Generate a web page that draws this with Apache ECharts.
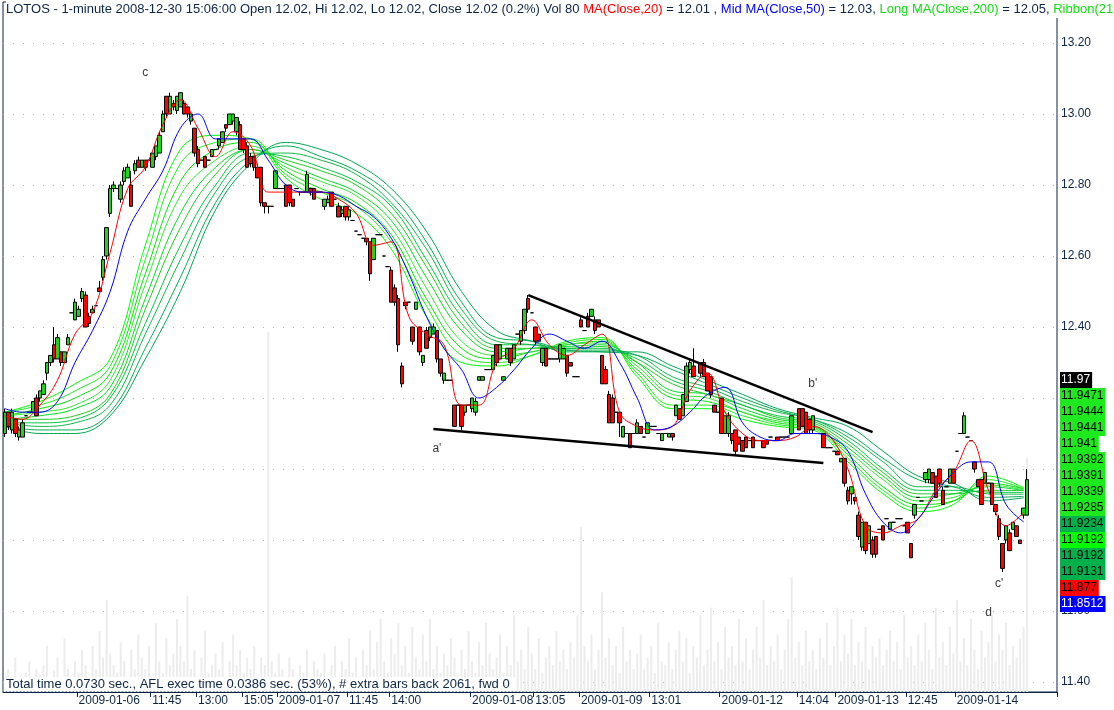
<!DOCTYPE html>
<html><head><meta charset="utf-8">
<script src="https://cdn.jsdelivr.net/npm/echarts@6/dist/echarts.min.js"></script>
<style>html,body{margin:0;padding:0;background:#fff}#c{width:1114px;height:710px}</style>
</head><body><div id="c"></div>
<script>
// ---------- DATA ----------
const N_SLOTS = 300; // bar slots on the x axis (last ones empty)
const tickIdx  = [21, 42, 55, 68, 78, 98, 110, 133, 151, 164, 184, 204, 226, 237, 257, 271];
const tickText = ['2009-01-06','11:45','13:00','15:05','2009-01-07','11:45','14:00','2009-01-08','13:05','2009-01-09','13:01','2009-01-12','14:04','2009-01-13','12:45','2009-01-14'];

// [open, close, low, high]
const bars = [
[12.10,12.16,12.09,12.17],[12.16,12.12,12.11,12.16],[12.11,12.16,12.10,12.17],[12.14,12.10,12.09,12.14],[12.09,12.11,12.08,12.12],
[12.09,12.13,12.09,12.14],[12.15,12.15,12.15,12.15],[12.16,12.16,12.16,12.16],[12.16,12.19,12.16,12.19],[12.20,12.15,12.15,12.21],
[12.20,12.22,12.19,12.22],[12.21,12.24,12.21,12.25],[12.27,12.30,12.25,12.30],[12.30,12.32,12.29,12.32],[12.35,12.31,12.30,12.40],
[12.31,12.37,12.31,12.38],[12.33,12.30,12.29,12.33],[12.30,12.33,12.30,12.33],[12.35,12.37,12.35,12.38],[12.44,12.44,12.44,12.44],
[12.42,12.47,12.42,12.48],[12.43,12.45,12.43,12.46],[12.48,12.50,12.47,12.51],[12.49,12.40,12.40,12.50],[12.43,12.41,12.40,12.44],
[12.44,12.45,12.44,12.46],[12.46,12.46,12.46,12.46],[12.51,12.50,12.50,12.53],[12.54,12.59,12.53,12.60],[12.60,12.68,12.59,12.68],
[12.72,12.79,12.71,12.80],[12.79,12.80,12.78,12.81],[12.79,12.79,12.79,12.79],[12.76,12.80,12.75,12.81],[12.81,12.84,12.80,12.85],
[12.82,12.85,12.82,12.86],[12.80,12.74,12.74,12.84],[12.84,12.86,12.83,12.87],[12.87,12.85,12.85,12.88],[12.85,12.87,12.85,12.87],
[12.87,12.85,12.84,12.87],[12.87,12.87,12.87,12.87],[12.85,12.89,12.85,12.89],[12.88,12.91,12.87,12.91],[12.89,12.94,12.89,12.95],
[12.95,13.00,12.95,13.01],[13.05,13.00,12.99,13.05],[13.00,13.05,13.00,13.06],[13.03,13.02,13.01,13.04],[13.01,13.05,13.00,13.05],
[13.02,13.06,13.02,13.06],[13.03,13.00,13.00,13.04],[13.02,13.00,12.99,13.02],[12.98,13.00,12.97,13.00],[12.96,12.89,12.88,12.96],
[12.90,12.86,12.85,12.91],[12.87,12.87,12.87,12.87],[12.88,12.85,12.85,12.88],[12.87,12.87,12.87,12.87],[12.88,12.90,12.88,12.90],
[12.90,12.90,12.90,12.90],[12.91,12.93,12.90,12.93],[12.92,12.95,12.92,12.95],[12.97,12.96,12.95,12.97],[12.97,13.00,12.97,13.00],
[12.98,13.00,12.97,13.00],[12.95,12.99,12.94,12.99],[12.97,12.90,12.90,12.98],[12.93,12.90,12.89,12.93],[12.91,12.85,12.85,12.92],
[12.88,12.86,12.85,12.89],[12.88,12.85,12.84,12.88],[12.85,12.82,12.82,12.86],[12.85,12.75,12.74,12.85],[12.75,12.74,12.72,12.75],
[12.74,12.74,12.72,12.74],[12.74,12.74,12.74,12.74],[12.79,12.84,12.79,12.84],[12.79,12.79,12.79,12.79],[12.79,12.79,12.79,12.79],
[12.80,12.74,12.74,12.80],[12.80,12.75,12.74,12.80],[12.76,12.74,12.74,12.76],[12.79,12.79,12.79,12.79],[12.78,12.78,12.77,12.78],
[12.78,12.78,12.78,12.78],[12.78,12.83,12.78,12.84],[12.79,12.78,12.77,12.79],[12.79,12.76,12.76,12.79],[12.78,12.78,12.78,12.78],
[12.78,12.78,12.78,12.78],[12.74,12.76,12.73,12.76],[12.75,12.76,12.75,12.77],[12.78,12.74,12.74,12.78],[12.76,12.76,12.76,12.76],
[12.74,12.71,12.71,12.75],[12.72,12.73,12.71,12.74],[12.74,12.71,12.70,12.74],[12.71,12.73,12.70,12.74],[12.70,12.70,12.70,12.70],
[12.67,12.67,12.67,12.67],[12.66,12.66,12.66,12.66],[12.65,12.65,12.65,12.65],[12.65,12.64,12.63,12.65],[12.64,12.55,12.53,12.64],
[12.59,12.65,12.59,12.65],[12.66,12.66,12.66,12.66],[12.66,12.66,12.66,12.66],[12.60,12.60,12.60,12.60],[12.57,12.57,12.57,12.57],
[12.56,12.47,12.47,12.57],[12.51,12.47,12.46,12.52],[12.48,12.35,12.33,12.49],[12.29,12.24,12.23,12.30],[12.47,12.46,12.45,12.47],
[12.47,12.47,12.47,12.47],[12.40,12.36,12.35,12.40],[12.45,12.47,12.45,12.47],[12.40,12.33,12.32,12.40],[12.30,12.32,12.29,12.32],
[12.39,12.34,12.34,12.40],[12.37,12.40,12.36,12.40],[12.38,12.40,12.38,12.41],[12.39,12.31,12.30,12.39],[12.31,12.27,12.26,12.31],
[12.25,12.27,12.24,12.27],[12.25,12.25,12.25,12.25],[12.25,12.25,12.25,12.25],[12.18,12.12,12.12,12.18],[12.18,12.18,12.18,12.18],
[12.18,12.12,12.11,12.18],[12.16,12.18,12.15,12.18],[12.18,12.18,12.18,12.18],[12.17,12.20,12.16,12.20],[12.16,12.19,12.15,12.20],
[12.25,12.26,12.25,12.26],[12.25,12.26,12.25,12.26],[12.28,12.28,12.28,12.28],[12.28,12.28,12.28,12.28],[12.28,12.32,12.28,12.32],
[12.35,12.30,12.29,12.35],[12.31,12.35,12.31,12.35],[12.25,12.26,12.25,12.26],[12.31,12.34,12.31,12.34],[12.34,12.30,12.29,12.34],
[12.31,12.35,12.31,12.35],[12.38,12.38,12.38,12.38],[12.36,12.39,12.35,12.39],[12.39,12.45,12.38,12.45],[12.48,12.45,12.44,12.49],
[12.44,12.44,12.44,12.44],[12.40,12.36,12.35,12.40],[12.38,12.36,12.36,12.38],[12.30,12.34,12.29,12.34],[12.34,12.29,12.29,12.34],
[12.31,12.31,12.31,12.31],[12.31,12.31,12.31,12.31],[12.31,12.31,12.31,12.31],[12.31,12.35,12.30,12.35],[12.31,12.34,12.31,12.34],
[12.32,12.27,12.26,12.32],[12.30,12.29,12.29,12.30],[12.26,12.26,12.26,12.26],[12.26,12.26,12.26,12.26],[12.42,12.40,12.40,12.43],
[12.39,12.39,12.39,12.39],[12.43,12.40,12.40,12.44],[12.43,12.45,12.43,12.45],[12.42,12.39,12.38,12.43],[12.42,12.40,12.40,12.42],
[12.32,12.24,12.24,12.32],[12.28,12.24,12.24,12.29],[12.21,12.13,12.13,12.22],[12.20,12.13,12.13,12.21],[12.16,12.16,12.16,12.16],
[12.16,12.13,12.09,12.16],[12.09,12.12,12.09,12.12],[12.10,12.10,12.10,12.10],[12.10,12.06,12.06,12.10],[12.10,12.10,12.10,12.10],
[12.10,12.13,12.10,12.14],[12.12,12.10,12.10,12.12],[12.09,12.09,12.09,12.09],[12.10,12.13,12.10,12.13],[12.12,12.12,12.12,12.12],
[12.12,12.12,12.12,12.12],[12.10,12.10,12.10,12.10],[12.08,12.10,12.08,12.10],[12.10,12.10,12.10,12.10],[12.09,12.10,12.09,12.10],
[12.10,12.09,12.08,12.10],[12.15,12.18,12.15,12.18],[12.17,12.14,12.14,12.17],[12.15,12.21,12.15,12.21],[12.19,12.29,12.19,12.30],
[12.28,12.30,12.27,12.31],[12.29,12.26,12.26,12.34],[12.30,12.30,12.30,12.30],[12.30,12.27,12.26,12.30],[12.30,12.26,12.26,12.31],
[12.27,12.22,12.22,12.27],[12.26,12.21,12.20,12.26],[12.18,12.16,12.16,12.18],[12.16,12.16,12.16,12.16],[12.20,12.10,12.10,12.20],
[12.10,12.15,12.10,12.15],[12.10,12.15,12.09,12.16],[12.10,12.08,12.07,12.10],[12.11,12.05,12.04,12.11],[12.09,12.07,12.07,12.09],
[12.08,12.05,12.05,12.08],[12.09,12.06,12.06,12.09],[12.08,12.08,12.08,12.08],[12.09,12.06,12.06,12.09],[12.08,12.08,12.08,12.08],
[12.08,12.08,12.08,12.08],[12.08,12.06,12.06,12.08],[12.08,12.07,12.07,12.08],[12.09,12.09,12.09,12.09],[12.08,12.08,12.08,12.08],
[12.09,12.08,12.08,12.09],[12.09,12.09,12.09,12.09],[12.09,12.09,12.09,12.09],[12.09,12.09,12.09,12.09],[12.10,12.15,12.10,12.15],
[12.10,12.10,12.10,12.10],[12.17,12.11,12.11,12.17],[12.17,12.12,12.12,12.17],[12.16,12.10,12.10,12.16],[12.14,12.11,12.10,12.14],
[12.11,12.15,12.10,12.15],[12.10,12.10,12.10,12.10],[12.10,12.10,12.10,12.10],[12.10,12.06,12.06,12.10],[12.06,12.06,12.06,12.06],
[12.06,12.06,12.06,12.06],[12.05,12.05,12.05,12.05],[12.05,12.04,12.04,12.05],[12.02,12.03,12.02,12.03],[12.03,11.96,11.95,12.03],
[11.94,11.91,11.90,11.95],[11.93,11.95,11.90,11.95],[11.92,11.91,11.90,11.92],[11.87,11.81,11.80,11.88],[11.78,11.85,11.77,11.85],
[11.85,11.77,11.76,11.85],[11.79,11.84,11.79,11.84],[11.80,11.76,11.75,11.81],[11.81,11.76,11.75,11.81],[11.83,11.83,11.83,11.83],
[11.84,11.80,11.80,11.84],[11.86,11.86,11.86,11.86],[11.83,11.85,11.83,11.85],[11.85,11.85,11.85,11.85],[11.86,11.86,11.86,11.86],
[11.86,11.86,11.86,11.86],[11.84,11.84,11.84,11.84],[11.85,11.82,11.82,11.85],[11.79,11.75,11.75,11.79],[11.87,11.90,11.86,11.90],
[11.92,11.92,11.92,11.92],[11.91,11.91,11.91,11.91],[11.97,11.99,11.96,11.99],[11.97,12.00,11.96,12.00],[11.99,11.96,11.96,11.99],
[11.98,11.92,11.92,11.98],[12.00,11.96,11.95,12.00],[11.94,11.90,11.90,11.95],[11.95,11.95,11.95,11.95],[11.96,12.00,11.96,12.00],
[12.00,11.96,11.96,12.00],[12.05,12.05,12.05,12.05],[12.10,12.10,12.10,12.10],[12.10,12.15,12.10,12.16],[12.09,12.09,12.09,12.09],
[12.08,12.08,12.08,12.08],[12.02,12.00,11.99,12.02],[11.97,11.95,11.95,11.97],[11.97,11.90,11.90,11.97],[11.96,11.99,11.96,11.99],
[11.96,11.96,11.96,11.96],[11.96,11.90,11.90,11.96],[11.90,11.88,11.87,11.90],[11.86,11.81,11.80,11.87],[11.79,11.72,11.71,11.79],
[11.80,11.84,11.79,11.84],[11.82,11.77,11.77,11.83],[11.83,11.85,11.83,11.85],[11.84,11.81,11.81,11.84],[11.80,11.79,11.79,11.80],
[11.87,11.89,11.86,11.89],[11.87,11.97,11.87,12.00]
];

const volume = [
15,30,12,45,20,8,25,40,18,30, 22,35,60,15,28,45,20,70,30,12, 40,25,55,35,18,60,30,80,45,120,
50,35,25,65,40,20,55,30,75,45, 30,60,20,90,40,25,70,35,50,95, 60,40,125,30,55,20,45,80,25,35,
50,30,65,20,40,75,35,55,25,45, 30,60,20,45,35,470,40,25,50,30, 20,45,30,15,35,25,55,20,40,30,
25,50,15,35,60,20,40,30,70,25, 45,20,55,35,80,30,65,95,40,25, 70,50,90,35,60,25,85,45,30,75,
40,95,30,60,25,50,35,70,45,20, 55,30,80,40,25,65,35,90,50,30, 45,75,25,60,35,100,40,55,30,85,
50,30,70,25,45,60,35,80,40,55, 30,65,45,100,215,60,40,75,30,55, 130,45,70,35,60,25,85,40,55,30,
50,75,30,45,60,25,90,40,35,65, 30,55,80,40,70,25,60,45,100,35, 55,110,40,65,30,85,45,60,35,95,
40,70,30,55,85,45,120,35,60,40, 75,30,55,95,150,45,65,35,80,40, 55,30,70,45,90,35,60,110,40,75,
50,95,35,65,40,85,30,60,45,70, 35,55,80,40,65,30,100,45,60,35, 75,40,90,55,30,110,45,65,35,85,
50,120,40,70,35,95,55,30,80,45, 65,100,40,75,55,90,35,60,45,70, 85,305
];

// moving averages read every 5 bars (index 0,5,10,...)
const maStep = 5;
const redMA = [12.15,12.14,12.18,12.25,12.38,12.44,12.61,12.79,12.85,12.97,13.04,12.96,12.88,12.95,12.91,12.78,12.78,12.78,12.78,12.76,
12.72,12.63,12.64,12.43,12.38,12.35,12.18,12.18,12.30,12.34,12.42,12.35,12.32,12.35,12.38,12.16,12.12,12.11,12.12,12.22,
12.27,12.16,12.10,12.08,12.08,12.09,12.12,12.09,12.00,11.84,11.82,11.84,11.86,11.94,11.99,12.08,11.94,11.84,11.877];
const blueMA = [12.17,12.16,12.16,12.19,12.30,12.39,12.50,12.67,12.76,12.84,12.96,13.00,12.93,12.93,12.93,12.87,12.80,12.78,12.78,12.77,
12.74,12.71,12.65,12.55,12.43,12.34,12.28,12.20,12.23,12.28,12.34,12.38,12.36,12.34,12.36,12.30,12.20,12.11,12.12,12.16,
12.21,12.23,12.13,12.09,12.08,12.10,12.10,12.09,12.05,11.93,11.85,11.82,11.86,11.93,11.99,12.02,12.02,11.90,11.851];

// ribbon lines read every 10 bars
const ribbonStep = 10;
const ribbon1 = [12.16,12.19,12.24,12.31,12.63,12.90,12.94,12.93,12.82,12.76,12.72,12.62,12.43,12.30,12.29,12.32,12.36,12.37,12.26,12.17,12.17,12.14,12.12,12.11,12.02,11.93,11.88,11.90,11.98,11.947];
const ribbon2 = [12.16,12.18,12.22,12.29,12.59,12.86,12.92,12.93,12.83,12.78,12.74,12.64,12.46,12.32,12.30,12.32,12.355,12.365,12.27,12.18,12.18,12.15,12.125,12.115,12.03,11.94,11.89,11.91,11.97,11.944];
const ribbon3 = [12.15,12.17,12.20,12.27,12.55,12.81,12.90,12.92,12.84,12.79,12.75,12.66,12.48,12.34,12.31,12.33,12.35,12.36,12.28,12.20,12.19,12.16,12.13,12.12,12.04,11.95,11.90,11.91,11.96,11.944];
const ribbon4 = [12.15,12.16,12.18,12.25,12.52,12.77,12.87,12.91,12.85,12.81,12.77,12.68,12.51,12.36,12.32,12.33,12.35,12.355,12.29,12.21,12.20,12.16,12.135,12.12,12.05,11.97,11.91,11.92,11.955,11.941];
const ribbon5 = [12.14,12.15,12.17,12.23,12.48,12.72,12.85,12.90,12.86,12.82,12.78,12.70,12.54,12.39,12.33,12.34,12.345,12.35,12.30,12.22,12.21,12.17,12.14,12.125,12.06,11.98,11.92,11.93,11.95,11.939];
const ribbon6 = [12.14,12.14,12.15,12.21,12.45,12.68,12.83,12.90,12.87,12.84,12.80,12.72,12.57,12.41,12.34,12.34,12.34,12.345,12.30,12.24,12.21,12.18,12.145,12.13,12.07,11.99,11.93,11.93,11.94,11.939];
const ribbon7 = [12.13,12.13,12.14,12.20,12.41,12.63,12.80,12.89,12.88,12.85,12.81,12.74,12.59,12.43,12.35,12.35,12.34,12.34,12.31,12.25,12.22,12.18,12.15,12.135,12.08,12.00,11.94,11.94,11.935,11.934];
const ribbon8 = [12.13,12.12,12.13,12.18,12.38,12.59,12.78,12.88,12.89,12.87,12.83,12.75,12.62,12.45,12.36,12.35,12.335,12.335,12.32,12.26,12.23,12.19,12.16,12.14,12.09,12.02,11.95,11.95,11.93,11.929];
const ribbon9 = [12.12,12.11,12.11,12.16,12.34,12.54,12.75,12.87,12.91,12.88,12.84,12.77,12.64,12.47,12.37,12.36,12.335,12.33,12.32,12.28,12.24,12.20,12.165,12.14,12.10,12.03,11.97,11.95,11.92,11.923];
const ribbon10 = [12.12,12.10,12.10,12.15,12.31,12.50,12.73,12.86,12.92,12.90,12.86,12.79,12.67,12.50,12.39,12.36,12.33,12.33,12.33,12.29,12.25,12.21,12.17,12.145,12.12,12.05,11.98,11.96,11.91,11.919];

// hand-drawn trend lines [barIndex, price]
const upperTrend = [[149, 12.49], [247, 12.104]];
const lowerTrend = [[122, 12.113], [233, 12.017]];

// letter annotations
const annText  = ['c', "a'", "b'", "c'", 'd'];
const annIdx   = [40, 123, 230, 283, 280];
const annPrice = [13.115, 12.056, 12.239, 11.676, 11.594];

// last-value labels stacked at the right
const lastLabels = ['11.97','11.9471','11.9444','11.9441','11.941','11.9392','11.9391','11.9339','11.9285','11.9234','11.9192','11.9192','11.9131','11.877','11.8512'];

// ---------- STYLE ----------
const NAVY = '#0d2545';
const FONT = 'Liberation Sans, Arial, sans-serif';
const lastBg = ['#000000','#1ee81e','#1ee81e','#1ee81e','#1ee81e','#1ee81e','#1ee81e','#1ee81e','#1ee81e','#00b04a','#00ff00','#00b04a','#00b04a','#ff0000','#0000ff'];
const lastFg = ['#ffffff','#000','#000','#000','#000','#000','#000','#000','#000','#000','#000','#000','#000','#000','#ffffff'];
const ribbonColors = ['#00ff00','#1cf01c','#00e600','#33e833','#00dd22','#22cc22','#00c83c','#10b848','#00b050','#00a850'];

const labelMap = {};
tickIdx.forEach((ix, j) => { labelMap[ix] = tickText[j]; });
const cats = Array.from({length: N_SLOTS}, (_, i) => String(i));
const isTick = (i) => labelMap[i] !== undefined;

const ribbons = [ribbon1,ribbon2,ribbon3,ribbon4,ribbon5,ribbon6,ribbon7,ribbon8,ribbon9,ribbon10];
const series = [];
series.push({
  type: 'bar', xAxisIndex: 0, yAxisIndex: 0, data: volume, barWidth: 2,
  itemStyle: { color: '#ececec' }, silent: true, z: 0, animation: false
});
ribbons.forEach((r, k) => {
  series.push({
    type: 'line', xAxisIndex: 1, yAxisIndex: 1, symbol: 'none', smooth: 0.4,
    data: r.map((v, j) => [j * ribbonStep, v]),
    lineStyle: { color: ribbonColors[k], width: 1 }, z: 1, silent: true, animation: false
  });
});
series.push({
  type: 'candlestick', xAxisIndex: 1, yAxisIndex: 1, data: bars, barWidth: 4,
  itemStyle: { color: '#1ed21e', color0: '#ff0000', borderColor: '#000', borderColor0: '#000', borderWidth: 1 },
  z: 3, animation: false
});
series.push({
  type: 'line', xAxisIndex: 1, yAxisIndex: 1, symbol: 'none', smooth: 0.4,
  data: redMA.map((v, j) => [j * maStep, v]), lineStyle: { color: '#ff0000', width: 1 }, z: 4, animation: false
});
series.push({
  type: 'line', xAxisIndex: 1, yAxisIndex: 1, symbol: 'none', smooth: 0.4,
  data: blueMA.map((v, j) => [j * maStep, v]), lineStyle: { color: '#0000ff', width: 1 }, z: 4, animation: false
});
[upperTrend, lowerTrend].forEach(t => series.push({
  type: 'line', xAxisIndex: 1, yAxisIndex: 1, symbol: 'none', data: t,
  lineStyle: { color: '#000', width: 2.5 }, z: 5, animation: false
}));
series.push({
  type: 'scatter', xAxisIndex: 1, yAxisIndex: 1, symbolSize: 1,
  itemStyle: { color: 'rgba(0,0,0,0)' },
  data: annIdx.map((ix, j) => [ix, annPrice[j]]),
  label: { show: true, position: 'inside', formatter: p => annText[p.dataIndex], color: '#000', fontSize: 12, fontFamily: FONT },
  z: 6, animation: false
});

const graphic = [];
graphic.push({
  type: 'text', left: 6, top: 1, z: 100,
  style: {
    text: '{n|LOTOS - 1-minute 2008-12-30 15:06:00 Open 12.02, Hi 12.02, Lo 12.02, Close 12.02 (0.2%) Vol 80 }{r|MA(Close,20)}{n| = 12.01 , }{b|Mid MA(Close,50)}{n| = 12.03, }{g|Long MA(Close,200)}{n| = 12.05, }{g|Ribbon(21}',
    backgroundColor: '#fff', padding: [1, 0, 1, 0],
    rich: {
      n: { fill: NAVY, fontSize: 13, fontFamily: FONT, lineHeight: 15 },
      r: { fill: '#ff0000', fontSize: 13, fontFamily: FONT, lineHeight: 15 },
      b: { fill: '#0000ff', fontSize: 13, fontFamily: FONT, lineHeight: 15 },
      g: { fill: '#11dd11', fontSize: 13, fontFamily: FONT, lineHeight: 15 }
    }
  }
});
graphic.push({
  type: 'text', left: 4, top: 677, z: 100,
  style: { text: 'Total time 0.0730 sec., AFL exec time 0.0386 sec. (53%), # extra bars back 2061, fwd 0',
    fill: NAVY, fontSize: 13, fontFamily: FONT, backgroundColor: '#fff', padding: [1, 6, 0, 2] }
});
lastLabels.forEach((t, k) => {
  graphic.push({
    type: 'text', x: 1060, y: 372 + 16 * k, z: 100,
    style: { text: t, fill: lastFg[k], backgroundColor: lastBg[k], fontSize: 12, fontFamily: FONT,
      lineHeight: 14, padding: [1, 2, 1, 1], align: 'left', verticalAlign: 'top' }
  });
});

const chart = echarts.init(document.getElementById('c'), null, { renderer: 'canvas' });
chart.setOption({
  animation: false,
  backgroundColor: '#fff',
  grid: [
    { left: 3, right: 57, top: 2, bottom: 18, show: true, borderColor: NAVY, borderWidth: 1, backgroundColor: 'transparent' },
    { left: 3, right: 57, top: 43, bottom: 28 }
  ],
  xAxis: [
    { type: 'category', gridIndex: 0, data: cats, boundaryGap: true,
      axisLine: { show: true, lineStyle: { color: NAVY } },
      axisTick: { show: true, interval: (i) => isTick(i), length: 5, lineStyle: { color: NAVY } },
      axisLabel: { interval: (i) => isTick(i), formatter: (v, i) => labelMap[i] || '', align: 'left',
        color: NAVY, fontSize: 12, fontFamily: FONT, margin: 3 },
      splitLine: { show: false } },
    { type: 'category', gridIndex: 1, data: cats, boundaryGap: true, show: false }
  ],
  yAxis: [
    { type: 'value', gridIndex: 0, min: 0, max: 900, show: false, splitLine: { show: false } },
    { type: 'value', gridIndex: 1, position: 'right', min: 11.4, max: 13.2, interval: 0.2,
      axisLine: { show: false }, axisTick: { show: false },
      axisLabel: { color: NAVY, fontSize: 12, fontFamily: FONT, margin: 4, formatter: v => v.toFixed(2) },
      splitLine: { show: true, lineStyle: { color: '#b4b4b4', type: [1, 9], width: 1 } } }
  ],
  series: series,
  graphic: graphic
});
</script></body></html>
